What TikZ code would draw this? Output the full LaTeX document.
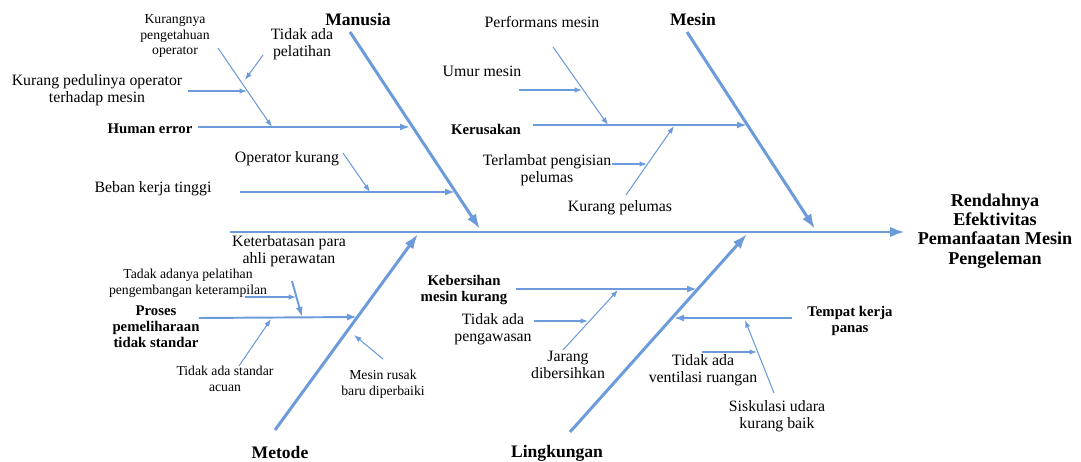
\documentclass[tikz,border=0pt]{standalone}
\usepackage{fontspec}
\setmainfont{Liberation Serif}
\usepackage{xcolor}
\usepackage{tikz}
\usetikzlibrary{arrows.meta, positioning}
\definecolor{boneBlue}{HTML}{6C9BDB}

\begin{document}
\begin{tikzpicture}[
  x=0.2mm, y=-0.2mm,
  lbl/.style={align=center, inner sep=0pt, font=\fontsize{9}{9.7}\selectfont},
  sml/.style={align=center, inner sep=0pt, font=\fontsize{7.8}{8.8}\selectfont},
  cat/.style={align=center, inner sep=0pt, font=\fontsize{8.4}{9}\selectfont\bfseries},
  cause/.style={inner sep=0pt, font=\fontsize{10}{12}\selectfont\bfseries},
  effect/.style={align=center, inner sep=0pt, font=\fontsize{10.3}{11}\selectfont\bfseries},
  bone/.style={draw=boneBlue, line width=1.7pt, -{Latex[length=3mm, width=2.1mm]}},
  rib/.style={draw=boneBlue, line width=1.1pt, -{Latex[length=2mm, width=1.4mm]}},
  twig/.style={draw=boneBlue, line width=0.6pt, -{Latex[length=1.5mm, width=1.1mm]}}
]
\useasboundingbox (0,0) rectangle (1081,461);

% spine and effect
\coordinate (tail) at (230,232);
\coordinate (head) at (905,232);
\node[effect] (effect) at (995,231) {Rendahnya\\Efektivitas\\Pemanfaatan Mesin\\Pengeleman};
\draw[bone] (tail) -- (head);

% main bones
\node[cause] (manusia) at (358,20) {Manusia};
\node[cause] (mesin) at (693,19) {Mesin};
\node[cause] (metode) at (280,452) {Metode};
\node[cause] (lingkungan) at (557,453) {Lingkungan};
\coordinate (manusia-s) at (350,32);     \coordinate (manusia-e) at (480,229);
\coordinate (mesin-s) at (687,32);       \coordinate (mesin-e) at (815,229);
\coordinate (metode-s) at (275,430);     \coordinate (metode-e) at (418,234);
\coordinate (lingkungan-s) at (570,432); \coordinate (lingkungan-e) at (747,234);
\foreach \c in {manusia,mesin,metode,lingkungan}
  \draw[bone] (\c-s) -- (\c-e);

% sub causes
\node[cat] (human) at (150,129) {Human error};
\node[lbl] (beban) at (153,189) {Beban kerja tinggi};
\node[cat] (kerusakan) at (486,129) {Kerusakan};
\node[cat] (proses) at (156,327) {Proses\\pemeliharaan\\tidak standar};
\node[cat] (kebersihan) at (464,290) {Kebersihan\\mesin kurang};
\node[cat] (tempat) at (850,321) {Tempat kerja\\panas};
\coordinate (human-s) at (198,127);      \coordinate (human-e) at (410,127);
\coordinate (beban-s) at (240,192);      \coordinate (beban-e) at (455,192);
\coordinate (kerusakan-s) at (533,125);  \coordinate (kerusakan-e) at (747,125);
\coordinate (proses-s) at (199,318);     \coordinate (proses-e) at (357,317);
\coordinate (kebersihan-s) at (516,289); \coordinate (kebersihan-e) at (697,289);
\coordinate (tempat-s) at (792,318);     \coordinate (tempat-e) at (674,318);
\coordinate (terbatas-s) at (292,281);   \coordinate (terbatas-e) at (302,317);
\foreach \r in {human,beban,kerusakan,proses,kebersihan,tempat,terbatas}
  \draw[rib] (\r-s) -- (\r-e);

% detail causes
\node[sml] (kurangnya) at (175,36) {Kurangnya\\pengetahuan\\operator};
\node[lbl] (pelatihan) at (302,44) {Tidak ada\\pelatihan};
\node[lbl] (peduli) at (97,90) {Kurang pedulinya operator\\terhadap mesin};
\node[lbl] (opkurang) at (287,159) {Operator kurang};
\node[lbl] (performans) at (542,22) {Performans mesin};
\node[lbl] (umur) at (482,71) {Umur mesin};
\node[lbl] (terlambat) at (547,170) {Terlambat pengisian\\pelumas};
\node[lbl] (pelumas) at (620,208) {Kurang pelumas};
\node[lbl] (terbatas) at (289,251) {Keterbatasan para\\ahli perawatan};
\node[sml] (tadak) at (188,283) {Tadak adanya pelatihan\\pengembangan keterampilan};
\node[sml] (standar) at (225,379) {Tidak ada standar\\acuan};
\node[sml] (rusak) at (383,384) {Mesin rusak\\baru diperbaiki};
\node[lbl] (pengawasan) at (493,329) {Tidak ada\\pengawasan};
\node[lbl] (jarang) at (568,365) {Jarang\\dibersihkan};
\node[lbl] (ventilasi) at (703,370) {Tidak ada\\ventilasi ruangan};
\node[lbl] (siskulasi) at (777,416) {Siskulasi udara\\kurang baik};
\coordinate (kurangnya-s) at (218,48);   \coordinate (kurangnya-e) at (272,127);
\coordinate (pelatihan-s) at (263,55);   \coordinate (pelatihan-e) at (245,80);
\coordinate (peduli-s) at (188,91);      \coordinate (peduli-e) at (247,91);
\coordinate (opkurang-s) at (343,153);   \coordinate (opkurang-e) at (370,192);
\coordinate (performans-s) at (553,47);  \coordinate (performans-e) at (608,125);
\coordinate (umur-s) at (519,90);        \coordinate (umur-e) at (582,90);
\coordinate (pelumas-s) at (626,195);    \coordinate (pelumas-e) at (674,126);
\coordinate (terlambat-s) at (612,164);  \coordinate (terlambat-e) at (647,164);
\coordinate (tadak-s) at (245,297);      \coordinate (tadak-e) at (296,297);
\coordinate (standar-s) at (239,366);    \coordinate (standar-e) at (271,319);
\coordinate (rusak-s) at (383,359);      \coordinate (rusak-e) at (354,335);
\coordinate (pengawasan-s) at (534,321); \coordinate (pengawasan-e) at (588,321);
\coordinate (jarang-s) at (563,350);     \coordinate (jarang-e) at (618,290);
\coordinate (siskulasi-s) at (774,393);  \coordinate (siskulasi-e) at (745,320);
\coordinate (ventilasi-s) at (702,352);  \coordinate (ventilasi-e) at (757,352);
\foreach \t in {kurangnya,pelatihan,peduli,opkurang,performans,umur,pelumas,terlambat,
                tadak,standar,rusak,pengawasan,jarang,siskulasi,ventilasi}
  \draw[twig] (\t-s) -- (\t-e);
\end{tikzpicture}
\end{document}
